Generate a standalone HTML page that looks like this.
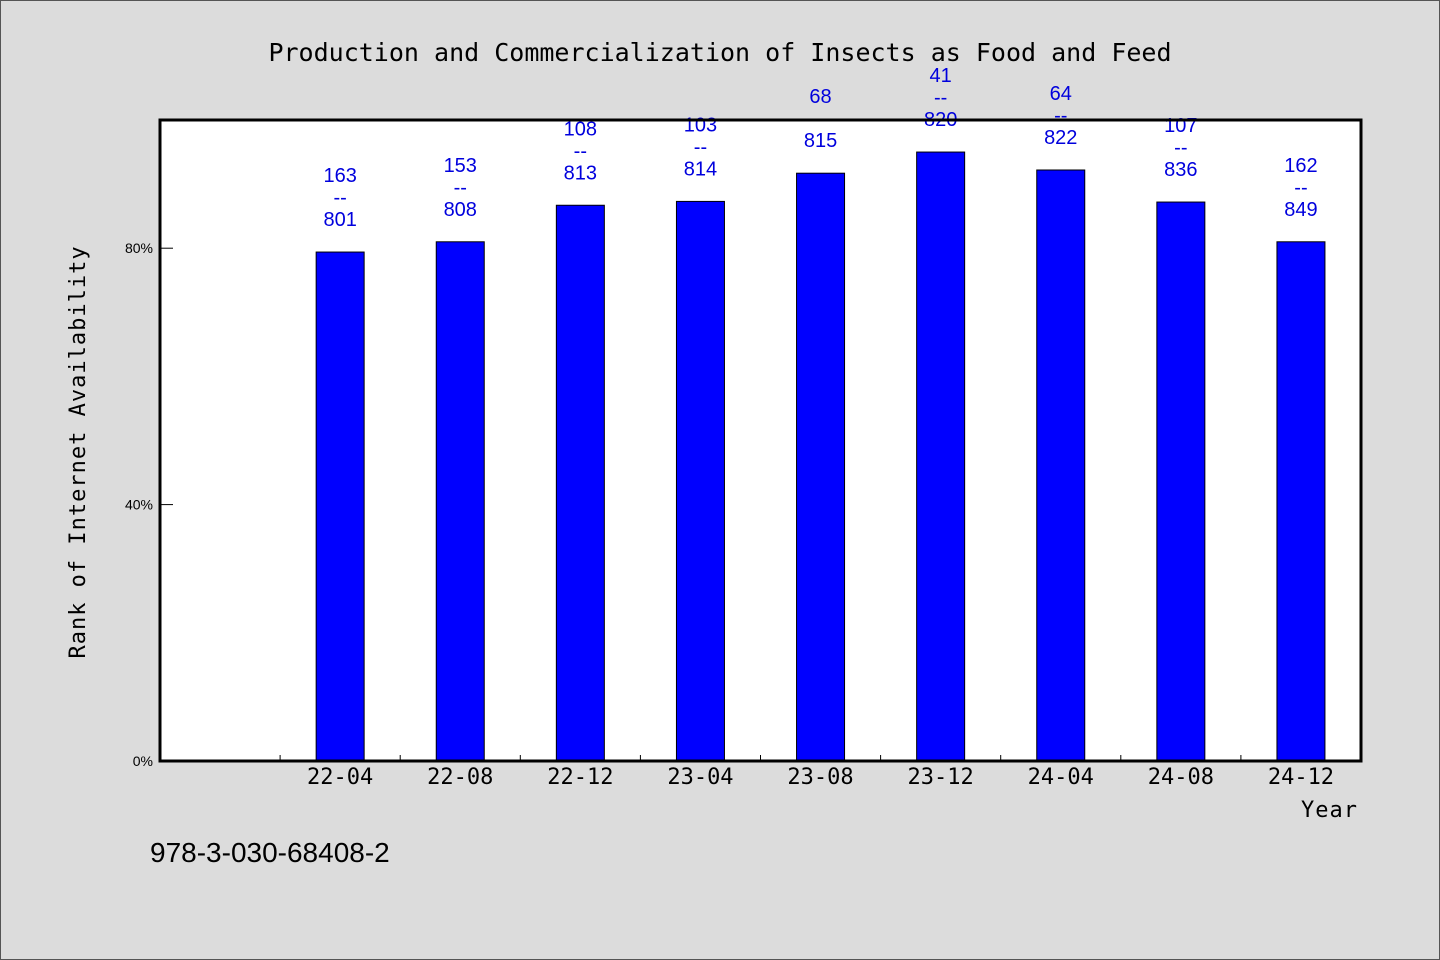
<!DOCTYPE html>
<html><head><meta charset="utf-8"><style>
html,body{margin:0;padding:0;background:#dcdcdc;}
svg{display:block;}
</style></head><body>
<svg id="chart" width="1440" height="960" xmlns="http://www.w3.org/2000/svg" font-family="'Liberation Sans', sans-serif">
<rect x="0.5" y="0.5" width="1439" height="959" fill="#dcdcdc" stroke="#555" stroke-width="1"/>
<text x="720" y="61" text-anchor="middle" font-family="'DejaVu Sans Mono','Liberation Mono',monospace" font-size="25" fill="#000">Production and Commercialization of Insects as Food and Feed</text>
<rect x="160" y="120" width="1201" height="641" fill="#fff"/>
<g id="bars"></g>
<g id="labels"></g>
<g id="axes"></g>
<text transform="translate(85,452) rotate(-90)" text-anchor="middle" font-family="'DejaVu Sans Mono','Liberation Mono',monospace" font-size="22" fill="#000" letter-spacing="1">Rank of Internet Availability</text>
<text x="1358" y="817" text-anchor="end" font-family="'DejaVu Sans Mono','Liberation Mono',monospace" font-size="22" fill="#000" letter-spacing="1">Year</text>
<text x="150" y="862" font-size="28" fill="#000">978-3-030-68408-2</text>
</svg>
<script>
const categories = ["22-04","22-08","22-12","23-04","23-08","23-12","24-04","24-08","24-12"];
const values = [79.4, 81.0, 86.7, 87.3, 91.7, 95.0, 92.2, 87.2, 81.0];
const topLabels = ["163","153","108","103","68","41","64","107","162"];
const bottomLabels = ["801","808","813","814","815","820","822","836","849"];
const yTicks = [0, 40, 80];
const yTickLabels = ["0%","40%","80%"];

const NS = "http://www.w3.org/2000/svg";
const X0 = 160, X1 = 1361, Y0 = 761, Y1 = 120;
const slot = (X1 - X0) / (categories.length + 1);
function xCenter(i){ return X0 + slot * (i + 1) + slot / 2; }
function yScale(v){ return Y0 - (v / 100) * (Y0 - Y1); }
function mk(tag, attrs, parent){ const e = document.createElementNS(NS, tag); for (const k in attrs) e.setAttribute(k, attrs[k]); parent.appendChild(e); return e; }

const gb = document.getElementById("bars"), gl = document.getElementById("labels"), ga = document.getElementById("axes");
const bw = 48;
values.forEach((v, i) => {
  const cx = xCenter(i), y = yScale(v);
  const r = mk("rect", {x: cx - bw/2, y: y, width: bw, height: Y0 - y, fill: "#0000ff", stroke: "#000", "stroke-width": 1}, gb);
  
  
  const lines = [topLabels[i], "--", bottomLabels[i]];
  lines.forEach((t, j) => {
    const tx = mk("text", {x: cx, y: y - 26 - (2 - j) * 22, "text-anchor": "middle", "font-size": 20, fill: "#0000dd"}, gl);
    tx.textContent = t;
    
    
  });
  const lt = mk("text", {x: cx, y: 784, "text-anchor": "middle", "font-family": "'DejaVu Sans Mono','Liberation Mono',monospace", "font-size": 22, fill: "#000"}, ga);
  lt.textContent = categories[i];
  
  
});
for (let i = 1; i <= categories.length; i++) {
  const tx = X0 + slot * i;
  const t = mk("line", {x1: tx, x2: tx, y1: Y0, y2: Y0 - 6, stroke: "#000", "stroke-width": 1}, ga);
  
  
}
yTicks.forEach((v, i) => {
  const y = yScale(v);
  const t = mk("line", {x1: X0, x2: X0 + 13, y1: y, y2: y, stroke: "#000", "stroke-width": 1}, ga);
  
  
  const l = mk("text", {x: 153, y: y + 5, "text-anchor": "end", "font-size": 14, fill: "#000"}, ga);
  l.textContent = yTickLabels[i];
  
  
});
const f = mk("rect", {x: X0, y: Y1, width: X1 - X0, height: Y0 - Y1, fill: "none", stroke: "#000", "stroke-width": 3}, ga);


</script>
</body></html>
